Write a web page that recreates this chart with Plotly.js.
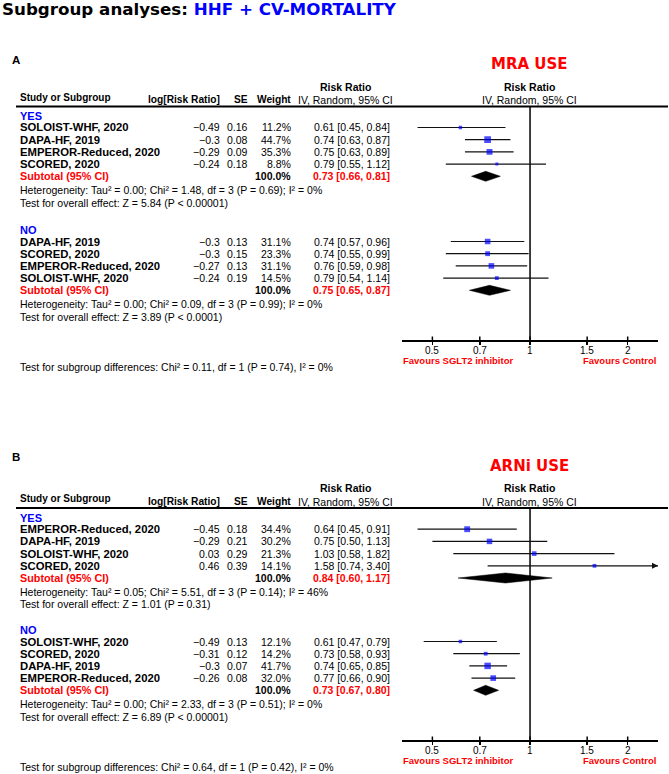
<!DOCTYPE html>
<html>
<head>
<meta charset="utf-8">
<script src="https://cdn.plot.ly/plotly-3.0.1.min.js"></script>
<style>
body { margin: 0; background: #fff; }
#chart { width: 669px; height: 774px; }
</style>
</head>
<body>
<div id="chart"></div>
<script>
// ---- data ----
var mraYesStudy  = ['SOLOIST-WHF, 2020', 'DAPA-HF, 2019', 'EMPEROR-Reduced, 2020', 'SCORED, 2020'];
var mraYesLogRR  = [-0.49, -0.3, -0.29, -0.24];
var mraYesSE     = [0.16, 0.08, 0.09, 0.18];
var mraYesWeight = [11.2, 44.7, 35.3, 8.8];
var mraYesRR     = [0.61, 0.74, 0.75, 0.79];
var mraYesLo     = [0.45, 0.63, 0.63, 0.55];
var mraYesHi     = [0.84, 0.87, 0.89, 1.12];
var mraYesTotal  = [0.73, 0.66, 0.81];

var mraNoStudy  = ['DAPA-HF, 2019', 'SCORED, 2020', 'EMPEROR-Reduced, 2020', 'SOLOIST-WHF, 2020'];
var mraNoLogRR  = [-0.3, -0.3, -0.27, -0.24];
var mraNoSE     = [0.13, 0.15, 0.13, 0.19];
var mraNoWeight = [31.1, 23.3, 31.1, 14.5];
var mraNoRR     = [0.74, 0.74, 0.76, 0.79];
var mraNoLo     = [0.57, 0.55, 0.59, 0.54];
var mraNoHi     = [0.96, 0.99, 0.98, 1.14];
var mraNoTotal  = [0.75, 0.65, 0.87];

var arniYesStudy  = ['EMPEROR-Reduced, 2020', 'DAPA-HF, 2019', 'SOLOIST-WHF, 2020', 'SCORED, 2020'];
var arniYesLogRR  = [-0.45, -0.29, 0.03, 0.46];
var arniYesSE     = [0.18, 0.21, 0.29, 0.39];
var arniYesWeight = [34.4, 30.2, 21.3, 14.1];
var arniYesRR     = [0.64, 0.75, 1.03, 1.58];
var arniYesLo     = [0.45, 0.50, 0.58, 0.74];
var arniYesHi     = [0.91, 1.13, 1.82, 3.40];
var arniYesTotal  = [0.84, 0.60, 1.17];

var arniNoStudy  = ['SOLOIST-WHF, 2020', 'SCORED, 2020', 'DAPA-HF, 2019', 'EMPEROR-Reduced, 2020'];
var arniNoLogRR  = [-0.49, -0.31, -0.3, -0.26];
var arniNoSE     = [0.13, 0.12, 0.07, 0.08];
var arniNoWeight = [12.1, 14.2, 41.7, 32.0];
var arniNoRR     = [0.61, 0.73, 0.74, 0.77];
var arniNoLo     = [0.47, 0.58, 0.65, 0.66];
var arniNoHi     = [0.79, 0.93, 0.85, 0.90];
var arniNoTotal  = [0.73, 0.67, 0.80];

var mraYesHet = 'Heterogeneity: Tau² = 0.00; Chi² = 1.48, df = 3 (P = 0.69); I² = 0%';
var mraYesZ   = 'Test for overall effect: Z = 5.84 (P < 0.00001)';
var mraNoHet  = 'Heterogeneity: Tau² = 0.00; Chi² = 0.09, df = 3 (P = 0.99); I² = 0%';
var mraNoZ    = 'Test for overall effect: Z = 3.89 (P < 0.0001)';
var mraDiff   = 'Test for subgroup differences: Chi² = 0.11, df = 1 (P = 0.74), I² = 0%';
var arniYesHet = 'Heterogeneity: Tau² = 0.05; Chi² = 5.51, df = 3 (P = 0.14); I² = 46%';
var arniYesZ   = 'Test for overall effect: Z = 1.01 (P = 0.31)';
var arniNoHet  = 'Heterogeneity: Tau² = 0.00; Chi² = 2.33, df = 3 (P = 0.51); I² = 0%';
var arniNoZ    = 'Test for overall effect: Z = 6.89 (P < 0.00001)';
var arniDiff   = 'Test for subgroup differences: Chi² = 0.64, df = 1 (P = 0.42), I² = 0%';

var tickVals = [0.5, 0.7, 1, 1.5, 2];
var tickText = ['0.5', '0.7', '1', '1.5', '2'];

// ---- page geometry ----
var W = 669, H = 774;
var FONT = '"Liberation Sans", Arial, sans-serif';
var RED = '#ff0000', BLUE = '#0000ff';
var xMin = 0.403, xMax = 2.48;

function px(x) { return x / W; }
function py(y) { return 1 - y / H; }

var annotations = [];
var shapes = [];
var traces = [];

function text(x, y, s, anchor, size, color, family) {
    annotations.push({
        xref: 'paper', yref: 'paper', x: px(x), y: py(y),
        text: s, showarrow: false,
        xanchor: anchor || 'left', yanchor: 'middle',
        font: {family: family || FONT, size: size || 10.5, color: color || '#000'}
    });
}

function fmtNum(v) {
    return String(v).replace('-', '\u2212');
}
function fmtCI(r, l, h) {
    return r.toFixed(2) + ' [' + l.toFixed(2) + ', ' + h.toFixed(2) + ']';
}

function drawGroup(n, g) {
    var xa = 'x' + n, ya = 'y' + n;
    text(18, g.y, '<b>' + g.name + '</b>', 'left', 11, BLUE);
    var rows = [];
    var total = 0;
    for (var i = 0; i < g.study.length; i++) {
        var ry = g.y + 11.5 + 12.2 * i;
        rows.push(ry);
        total += g.weight[i];
        text(18, ry, '<b>' + g.study[i] + '</b>', 'left', 11.3);
        text(222, ry, fmtNum(g.logRR[i]), 'right');
        text(250, ry, g.se[i].toFixed(2), 'right');
        text(293, ry, g.weight[i].toFixed(1) + '%', 'right');
        text(392, ry, fmtCI(g.rr[i], g.lo[i], g.hi[i]), 'right');

        traces.push({
            x: [g.lo[i], g.hi[i]], y: [ry, ry], xaxis: xa, yaxis: ya,
            mode: 'lines', line: {color: '#111', width: 1.2}, hoverinfo: 'skip'
        });
        if (g.hi[i] > xMax) {
            annotations.push({
                xref: xa, yref: ya, axref: xa, ayref: ya,
                x: Math.log10(xMax), y: ry, ax: Math.log10(xMax * 0.95), ay: ry,
                showarrow: true, arrowhead: 2, arrowsize: 1, arrowwidth: 1.2, arrowcolor: '#111', text: ''
            });
        }
    }
    traces.push({
        x: g.rr, y: rows, xaxis: xa, yaxis: ya, mode: 'markers',
        marker: {
            symbol: 'square', color: BLUE,
            size: g.weight.map(function (w) { return Math.max(3, Math.sqrt(w)); }),
            line: {width: 0}
        },
        hoverinfo: 'skip'
    });

    var sy = g.y + 11.5 + 12.2 * g.study.length;
    text(18, sy, '<b>Subtotal (95% CI)</b>', 'left', 10.8, RED);
    text(293, sy, '<b>' + total.toFixed(1) + '%</b>', 'right');
    text(392, sy, '<b>' + fmtCI(g.total[0], g.total[1], g.total[2]) + '</b>', 'right', 10.5, RED);
    var h = 5;
    traces.push({
        x: [g.total[1], g.total[0], g.total[2], g.total[0], g.total[1]],
        y: [sy, sy - h, sy, sy + h, sy],
        xaxis: xa, yaxis: ya, mode: 'lines', fill: 'toself',
        fillcolor: '#000', line: {color: '#000', width: 0.5}, hoverinfo: 'skip'
    });

    text(18, sy + 13.5, g.het);
    text(18, sy + 26.3, g.z);
}

function drawPanel(p) {
    var n = p.n;
    var xa = 'x' + n, ya = 'y' + n;
    text(10, p.labelY, '<b>' + p.label + '</b>', 'left', 11.5);
    text(529, p.useY, '<b>' + p.use + '</b>', 'center', 15, RED, 'DejaVu Sans');

    var hy = p.headerY;
    text(18, hy - 9.5, '<b>Study or Subgroup</b>', 'left', 10);
    text(222, hy - 6.5, '<b>log[Risk Ratio]</b>', 'right', 10.2);
    text(250, hy - 6.5, '<b>SE</b>', 'right', 10.2);
    text(293, hy - 6.5, '<b>Weight</b>', 'right', 10.2);
    text(345, hy - 20, '<b>Risk Ratio</b>', 'center', 10.5);
    text(345, hy - 6.5, 'IV, Random, 95% CI', 'center');
    text(529, hy - 20, '<b>Risk Ratio</b>', 'center', 10.5);
    text(529, hy - 6.5, 'IV, Random, 95% CI', 'center');

    shapes.push({
        type: 'line', xref: 'paper', yref: 'paper',
        x0: px(16), x1: px(668), y0: py(hy), y1: py(hy),
        line: {color: '#000', width: 2}
    });

    // line of no effect
    traces.push({
        x: [1, 1], y: [hy, p.axisY], xaxis: xa, yaxis: ya, mode: 'lines',
        line: {color: '#000', width: 1.5}, hoverinfo: 'skip'
    });
    // upper half of the axis ticks
    var tx = [], ty = [];
    tickVals.forEach(function (v) { tx.push(v, v, null); ty.push(p.axisY, p.axisY - 3.5, null); });
    traces.push({
        x: tx, y: ty, xaxis: xa, yaxis: ya, mode: 'lines',
        line: {color: '#000', width: 1.5}, hoverinfo: 'skip'
    });
    // tick labels
    tickVals.forEach(function (v, k) {
        annotations.push({
            xref: xa, yref: 'paper', x: Math.log10(v), y: py(p.axisY + 10),
            text: tickText[k], showarrow: false, xanchor: 'center', yanchor: 'middle',
            font: {family: FONT, size: 10, color: '#000'}
        });
    });

    p.groups.forEach(function (g) { drawGroup(n, g); });

    text(401, p.axisY + 20.5, '<b>Favours SGLT2 inhibitor</b>', 'left', 9.5, RED);
    text(658, p.axisY + 20.5, '<b>Favours Control</b>', 'right', 9.5, RED);
    text(18, p.axisY + 27, p.diff);
}

var panels = [
    {
        n: '', label: 'A', labelY: 60, use: 'MRA USE', useY: 63.5, headerY: 106.5, axisY: 340,
        diff: mraDiff,
        groups: [
            {name: 'YES', y: 116, study: mraYesStudy, logRR: mraYesLogRR, se: mraYesSE, weight: mraYesWeight,
             rr: mraYesRR, lo: mraYesLo, hi: mraYesHi, total: mraYesTotal, het: mraYesHet, z: mraYesZ},
            {name: 'NO', y: 230, study: mraNoStudy, logRR: mraNoLogRR, se: mraNoSE, weight: mraNoWeight,
             rr: mraNoRR, lo: mraNoLo, hi: mraNoHi, total: mraNoTotal, het: mraNoHet, z: mraNoZ}
        ]
    },
    {
        n: '2', label: 'B', labelY: 457, use: 'ARNi USE', useY: 466, headerY: 508, axisY: 740,
        diff: arniDiff,
        groups: [
            {name: 'YES', y: 517.7, study: arniYesStudy, logRR: arniYesLogRR, se: arniYesSE, weight: arniYesWeight,
             rr: arniYesRR, lo: arniYesLo, hi: arniYesHi, total: arniYesTotal, het: arniYesHet, z: arniYesZ},
            {name: 'NO', y: 630, study: arniNoStudy, logRR: arniNoLogRR, se: arniNoSE, weight: arniNoWeight,
             rr: arniNoRR, lo: arniNoLo, hi: arniNoHi, total: arniNoTotal, het: arniNoHet, z: arniNoZ}
        ]
    }
];

panels.forEach(drawPanel);

// figure title
text(0, 9, '<b>Subgroup analyses: <span style="color:' + BLUE + '">HHF + CV-MORTALITY</span></b>',
     'left', 16.7, '#000', 'DejaVu Sans');

function xAxis(n, p) {
    return {
        type: 'log', range: [Math.log10(xMin), Math.log10(xMax)],
        domain: [px(402), px(658)], anchor: 'y' + n,
        showline: true, linewidth: 2, linecolor: '#000',
        ticks: 'outside', ticklen: 3, tickwidth: 1.5, tickcolor: '#000',
        tickmode: 'array', tickvals: tickVals, ticktext: tickText,
        showticklabels: false,
        showgrid: false, zeroline: false, fixedrange: true
    };
}
function yAxis(n, p) {
    return {
        domain: [py(p.axisY), py(p.headerY)], range: [p.axisY, p.headerY],
        anchor: 'x' + n, visible: false, showgrid: false, zeroline: false, fixedrange: true
    };
}

var layout = {
    width: W, height: H,
    margin: {l: 0, r: 0, t: 0, b: 0},
    paper_bgcolor: '#fff', plot_bgcolor: 'rgba(0,0,0,0)',
    showlegend: false,
    xaxis: xAxis('', panels[0]), yaxis: yAxis('', panels[0]),
    xaxis2: xAxis('2', panels[1]), yaxis2: yAxis('2', panels[1]),
    annotations: annotations,
    shapes: shapes
};

Plotly.newPlot('chart', traces, layout, {staticPlot: true, displayModeBar: false});
</script>
</body>
</html>
